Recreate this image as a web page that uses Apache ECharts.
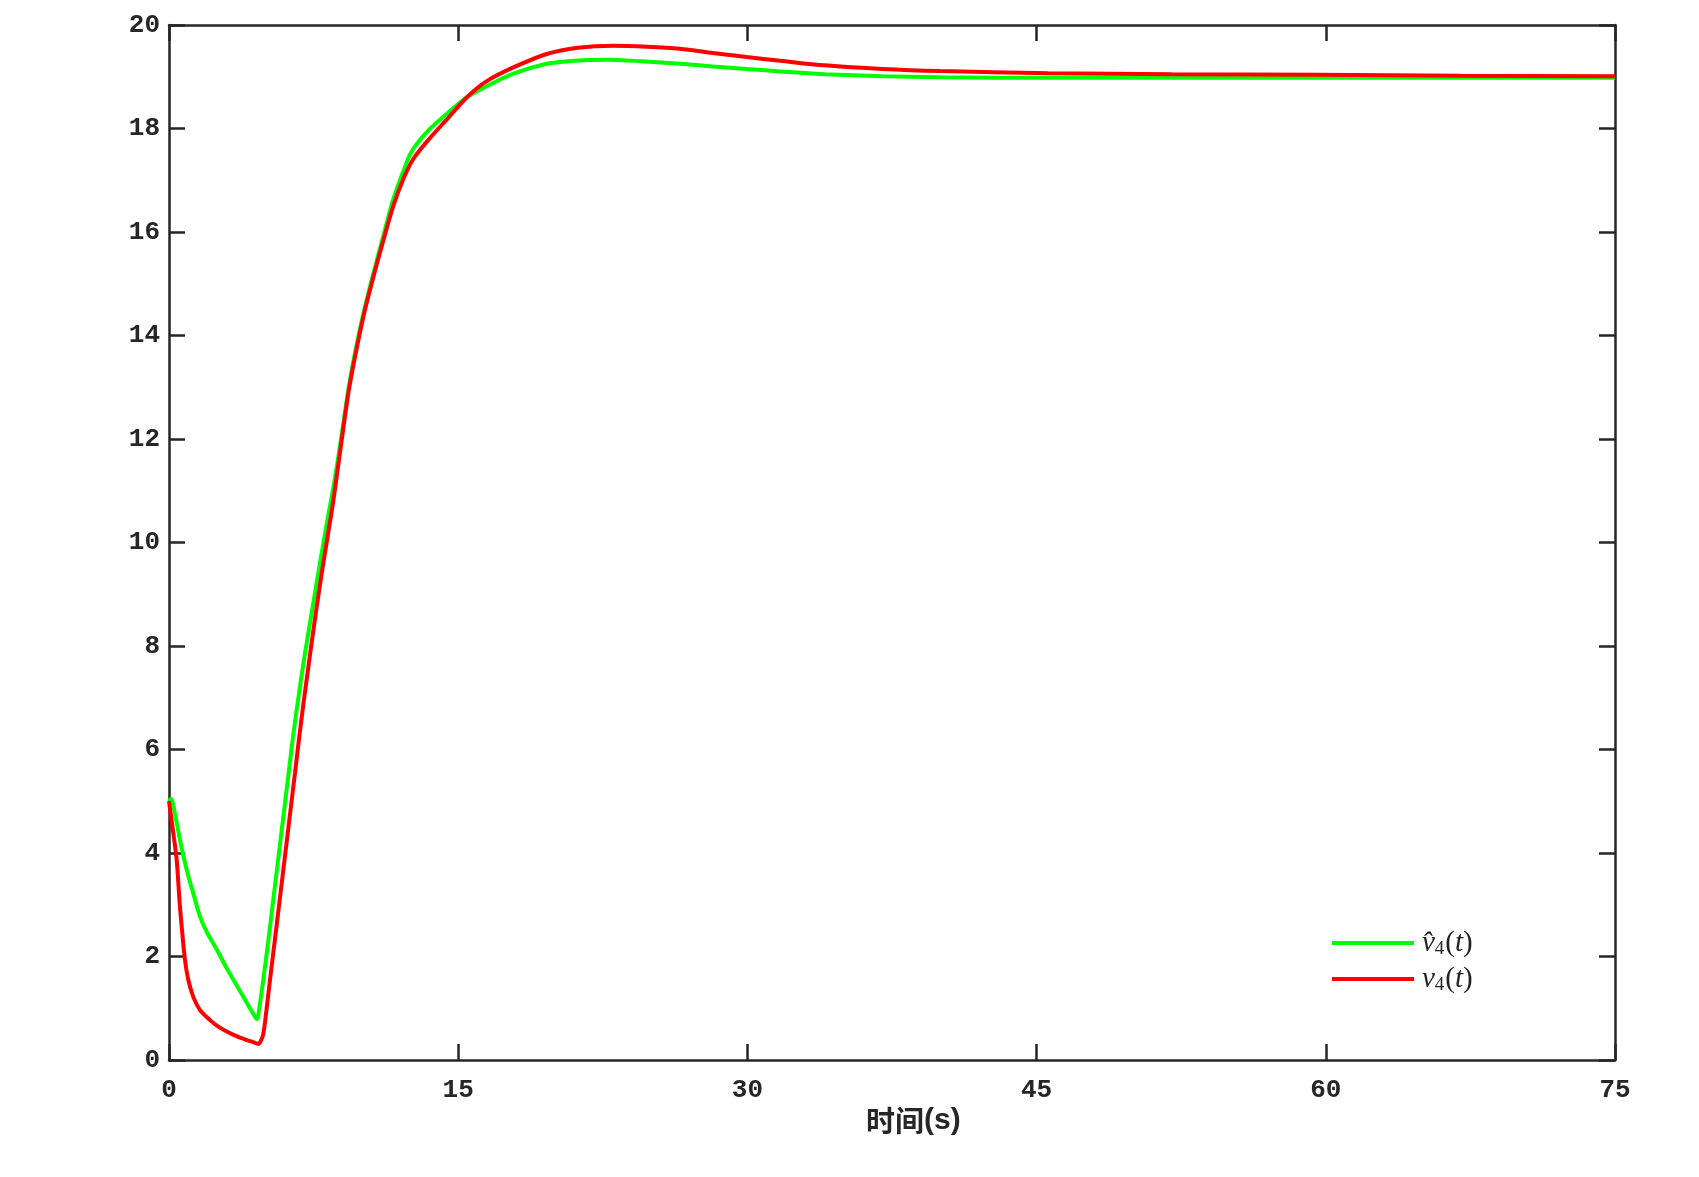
<!DOCTYPE html>
<html>
<head>
<meta charset="utf-8">
<script src="https://cdn.jsdelivr.net/npm/echarts@6/dist/echarts.min.js"></script>
<style>
html,body{margin:0;padding:0;background:#fff;}
#chart{width:1699px;height:1177px;}
</style>
</head>
<body>
<div id="chart"></div>
<script>
// time ticks / value ticks
var xTicks = [0, 15, 30, 45, 60, 75];
var yTicks = [0, 2, 4, 6, 8, 10, 12, 14, 16, 18, 20];

// estimated v̂4(t) (green)
var vHat4 = [
  [0, 5.0], [0.1, 5.05], [0.31, 4.76], [0.57, 4.25], [0.92, 3.67], [1.26, 3.22],
  [1.61, 2.77], [1.95, 2.48], [2.5, 2.12], [3.0, 1.77], [3.5, 1.45], [4.0, 1.13],
  [4.3, 0.94], [4.55, 0.79], [4.7, 1.05], [4.89, 1.55], [5.15, 2.3], [5.41, 3.1],
  [5.67, 3.9], [5.93, 4.7], [6.19, 5.5], [6.45, 6.3], [6.75, 7.1], [7.05, 7.85],
  [7.45, 8.75], [7.83, 9.6], [8.2, 10.4], [8.52, 11.05], [8.78, 11.65], [9.04, 12.3],
  [9.3, 12.95], [9.56, 13.5], [10.08, 14.42], [10.6, 15.2], [11.12, 15.93],
  [11.63, 16.63], [12.15, 17.17], [12.5, 17.5], [12.85, 17.7],
  [13.5, 17.98], [14.4, 18.28], [15.44, 18.6], [16.5, 18.82], [17.86, 19.06],
  [19.59, 19.25], [21.0, 19.31], [22.7, 19.33], [24.5, 19.3], [26.5, 19.25],
  [28.2, 19.2], [29.96, 19.15], [31.7, 19.1], [34.0, 19.05], [37.0, 19.01],
  [40.0, 18.99], [45.6, 18.98], [52.0, 18.98], [60.0, 18.98], [67.0, 18.98], [75.0, 18.98]
];

// estimated v4(t) (red)
var v4 = [
  [0, 5.0], [0.2, 4.45], [0.4, 3.86], [0.55, 3.05], [0.66, 2.57], [0.83, 1.93],
  [1.0, 1.55], [1.26, 1.22], [1.6, 0.97], [2.13, 0.77], [2.5, 0.66], [2.99, 0.55],
  [3.5, 0.46], [4.0, 0.39], [4.4, 0.34], [4.63, 0.31], [4.75, 0.36], [4.89, 0.5],
  [5.05, 0.95], [5.24, 1.55], [5.5, 2.35], [5.76, 3.15], [6.02, 3.95], [6.28, 4.76],
  [6.54, 5.56], [6.79, 6.35], [7.05, 7.1], [7.31, 7.82], [7.6, 8.6], [7.92, 9.4],
  [8.22, 10.1], [8.52, 10.8], [8.78, 11.5], [9.04, 12.2], [9.3, 12.88], [9.56, 13.42],
  [10.08, 14.36], [10.6, 15.13], [11.12, 15.84], [11.63, 16.5], [12.15, 17.02],
  [12.67, 17.41], [13.5, 17.8], [14.4, 18.17], [15.44, 18.6], [16.5, 18.92],
  [17.86, 19.18], [19.59, 19.44], [21.2, 19.56], [23.05, 19.6], [24.8, 19.58],
  [26.5, 19.54], [28.2, 19.46], [29.96, 19.38], [31.7, 19.31], [34.0, 19.22],
  [37.0, 19.15], [40.0, 19.11], [45.6, 19.07], [52.0, 19.05], [59.5, 19.04],
  [67.0, 19.02], [75.0, 19.01]
];

var axisColor = '#262626';
var labelFont = {
  color: axisColor,
  fontFamily: 'Liberation Mono',
  fontWeight: 'bold',
  fontSize: 26
};

var chart = echarts.init(document.getElementById('chart'), null, {renderer: 'canvas'});
chart.setOption({
  backgroundColor: '#ffffff',
  animation: false,
  grid: {left: 169, right: 84, top: 25, bottom: 117, containLabel: false},
  xAxis: [{
    type: 'value', min: xTicks[0], max: xTicks[xTicks.length - 1], interval: 15,
    position: 'bottom',
    axisLine: {show: true, lineStyle: {color: axisColor, width: 2.5}},
    axisTick: {show: true, inside: true, length: 16, lineStyle: {color: axisColor, width: 2.5}},
    axisLabel: Object.assign({margin: 17}, labelFont),
    splitLine: {show: false}
  }, {
    type: 'value', min: xTicks[0], max: xTicks[xTicks.length - 1], interval: 15,
    position: 'top',
    axisLine: {show: true, onZero: false, lineStyle: {color: axisColor, width: 2.5}},
    axisTick: {show: true, inside: true, length: 16, lineStyle: {color: axisColor, width: 2.5}},
    axisLabel: {show: false},
    splitLine: {show: false}
  }],
  yAxis: [{
    type: 'value', min: yTicks[0], max: yTicks[yTicks.length - 1], interval: 2,
    position: 'left',
    axisLine: {show: true, onZero: false, lineStyle: {color: axisColor, width: 2.5}},
    axisTick: {show: true, inside: true, length: 16, lineStyle: {color: axisColor, width: 2.5}},
    axisLabel: Object.assign({margin: 9}, labelFont),
    splitLine: {show: false}
  }, {
    type: 'value', min: yTicks[0], max: yTicks[yTicks.length - 1], interval: 2,
    position: 'right',
    axisLine: {show: true, onZero: false, lineStyle: {color: axisColor, width: 2.5}},
    axisTick: {show: true, inside: true, length: 16, lineStyle: {color: axisColor, width: 2.5}},
    axisLabel: {show: false},
    splitLine: {show: false}
  }],
  legend: {
    orient: 'vertical',
    left: 1327,
    top: 922,
    icon: 'rect',
    itemWidth: 82,
    itemHeight: 4,
    itemGap: 4,
    data: ['vhat', 'v'],
    formatter: function (name) {
      if (name === 'vhat') return '{i|v\u0302}{s|4}{r|(}{i|t}{r|)}';
      return '{i|v}{s|4}{r|(}{i|t}{r|)}';
    },
    textStyle: {
      color: '#222',
      lineHeight: 29,
      padding: [0, 0, 0, 3],
      rich: {
        i: {fontFamily: 'Liberation Serif', fontStyle: 'italic', fontSize: 29, color: '#222', lineHeight: 29},
        r: {fontFamily: 'Liberation Serif', fontSize: 29, color: '#222', lineHeight: 29},
        s: {fontFamily: 'Liberation Serif', fontSize: 19, color: '#222', lineHeight: 29, padding: [13, 1, 0, 0]}
      }
    }
  },
  graphic: [{
    type: 'text',
    left: 866,
    top: 1106,
    style: {
      text: '{c|时间}{e|(s)}',
      rich: {
        c: {fontFamily: '"Noto Sans CJK SC"', fontWeight: 'bold', fontSize: 29, fill: '#262626'},
        e: {fontFamily: '"Liberation Sans"', fontWeight: 'bold', fontSize: 30, fill: '#262626'}
      }
    }
  }],
  series: [{
    name: 'vhat',
    type: 'line',
    data: vHat4,
    showSymbol: false,
    symbol: 'none',
    smooth: 0.3,
    lineStyle: {color: '#00ff00', width: 4},
    itemStyle: {color: '#00ff00'},
    z: 2
  }, {
    name: 'v',
    type: 'line',
    data: v4,
    showSymbol: false,
    symbol: 'none',
    smooth: 0.3,
    lineStyle: {color: '#ff0000', width: 4},
    itemStyle: {color: '#ff0000'},
    z: 3
  }]
});
</script>
</body>
</html>
